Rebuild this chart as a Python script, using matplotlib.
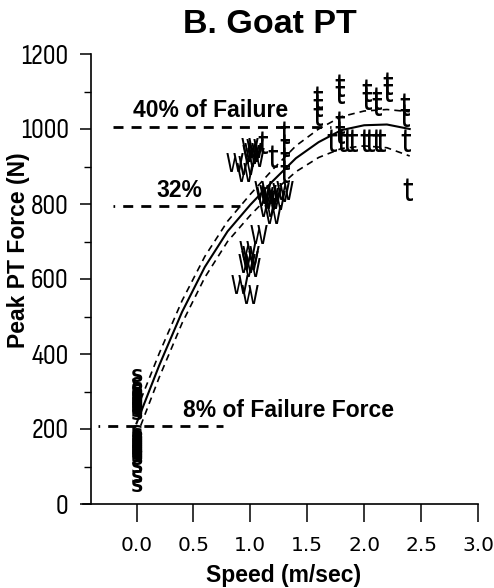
import matplotlib
matplotlib.use('Agg')
import matplotlib.pyplot as plt
from matplotlib.ticker import MultipleLocator, FormatStrFormatter

plt.rcParams['font.family'] = ['Sofia Sans Condensed', 'DejaVu Sans']
BOLD = ['Liberation Sans', 'DejaVu Sans']
NARROW = ['Sofia Sans Condensed', 'DejaVu Sans']

# standing trials (all at 0 m/sec), peak PT force in N
stand_speed = 0.0
stand_force = [340, 318, 305, 298, 292, 285, 280, 275, 270, 265, 260, 255, 250,
               245, 238, 188, 182, 176, 170, 165, 160, 155, 150, 145, 140, 135,
               130, 125, 118, 96, 70, 45]

# walking trials
walk_speed = [0.86, 0.99, 1.02, 1.05, 0.97, 0.95, 1.04, 1.00, 1.11, 1.17, 1.23,
              1.14, 1.27, 1.30, 1.15, 1.19, 1.13, 1.20, 1.07, 0.98, 0.99, 1.01,
              1.00, 0.97, 0.91, 0.99]
walk_force = [904, 944, 931, 917, 895, 877, 940, 925, 828, 811, 802,
              784, 824, 828, 820, 805, 812, 766, 713, 668, 642, 624,
              655, 635, 580, 553]

# trotting trials
trot_speed = [1.11, 1.20, 1.30, 1.30, 1.30, 1.30, 1.59, 1.59, 1.59, 1.79, 1.79,
              1.79, 1.79, 1.72, 1.80, 1.86, 1.90, 2.01, 2.05, 2.11, 2.15, 2.02,
              2.02, 2.11, 2.11, 2.21, 2.21, 2.36, 2.36, 2.37, 2.38]
trot_force = [958, 920, 985, 950, 915, 880, 1077, 1055, 1032, 1110, 1090,
              1010, 985, 963, 963, 963, 963, 963, 963, 963, 963, 1095,
              1075, 1075, 1060, 1115, 1095, 1060, 1030, 963, 832]

# fitted curve and its confidence band
fit_speed = [0.0, 0.2, 0.4, 0.6, 0.8, 1.0, 1.2, 1.4, 1.6, 1.8, 2.0, 2.2, 2.4]
fit_force = [215, 370, 512, 632, 727, 798, 862, 922, 965, 997, 1010, 1012, 1000]
fit_upper = [250, 402, 542, 660, 754, 826, 893, 955, 1000, 1033, 1048, 1052, 1046]
fit_lower = [180, 338, 482, 604, 700, 770, 832, 886, 924, 948, 955, 950, 928]

# failure force reference levels
ref_labels = ['40% of Failure', '32%', '8% of Failure Force']
ref_force = [1005, 795, 208]
ref_start = [-0.21, -0.21, -0.34]
ref_end = [1.71, 0.91, 0.76]

fig = plt.figure(figsize=(4.94, 5.88), dpi=100)
ax = fig.add_axes([83 / 494, 84 / 588, 395 / 494, 450 / 588])
ax.set_xlim(-0.47, 3.0)
ax.set_ylim(0, 1200)

ax.spines['top'].set_visible(False)
ax.spines['right'].set_visible(False)
ax.spines['left'].set_position(('data', -0.4))
ax.spines['left'].set_linewidth(1.2)
ax.spines['bottom'].set_linewidth(1.2)

ax.set_xticks([0.0, 0.5, 1.0, 1.5, 2.0, 2.5, 3.0])
ax.xaxis.set_major_formatter(FormatStrFormatter('%.1f'))
ax.yaxis.set_major_locator(MultipleLocator(200))
ax.yaxis.set_minor_locator(MultipleLocator(100))
ax.tick_params(axis='y', which='major', length=8, width=1.1, pad=8, labelsize=20.5)
ax.tick_params(axis='y', which='minor', length=5, width=1.0)
ax.tick_params(axis='x', which='major', length=13, width=1.1, pad=10, labelsize=14.5)
for lbl in ax.get_xticklabels():
    lbl.set_family('DejaVu Sans')

# reference lines
styles = [(0, (3.6, 2.9)), (3.0, (3.6, 2.9)), (3.0, (3.6, 2.9))]
for f, x0, x1, ls in zip(ref_force, ref_start, ref_end, styles):
    ax.plot([x0, x1], [f, f], color='black', lw=2, linestyle=ls, zorder=2)

# regression curve with confidence band
ax.plot(fit_speed, fit_force, color='black', lw=1.5, zorder=3)
ax.plot(fit_speed, fit_upper, color='black', lw=1.2, dashes=(4, 3), zorder=3)
ax.plot(fit_speed, fit_lower, color='black', lw=1.2, dashes=(4, 3), zorder=3)

# data points plotted as letters: S = stand, W = walk, t = trot
for f in stand_force:
    ax.text(stand_speed, f, 'S', fontsize=12.5, fontweight='bold', family='DejaVu Sans',
            ha='center', va='center', zorder=4)
for s, f in zip(walk_speed, walk_force):
    ax.text(s, f, 'W', fontsize=20, family=NARROW, ha='center', va='center', zorder=4)
for s, f in zip(trot_speed, trot_force):
    ax.text(s, f, 't', fontsize=26, family=NARROW, ha='center', va='center', zorder=4)

# labels for the reference levels
ax.text(-0.035, 1032, ref_labels[0], fontsize=16.5, fontweight='bold', family=BOLD)
ax.text(0.176, 819, ref_labels[1], fontsize=16.5, fontweight='bold', family=BOLD)
ax.text(0.405, 233, ref_labels[2], fontsize=16.5, fontweight='bold', family=BOLD)

fig.text(0.547, 0.959, 'B. Goat PT', fontsize=24.5, fontweight='bold',
         family=BOLD, ha='center', va='center')
fig.text(0.038, 0.575, 'Peak PT Force (N)', fontsize=16.5, fontweight='bold',
         family=BOLD, rotation=90, ha='center', va='center')
fig.text(0.575, 0.022, 'Speed (m/sec)', fontsize=16.5, fontweight='bold',
         family=BOLD, ha='center', va='center')

fig.savefig('out.png', dpi=100)
